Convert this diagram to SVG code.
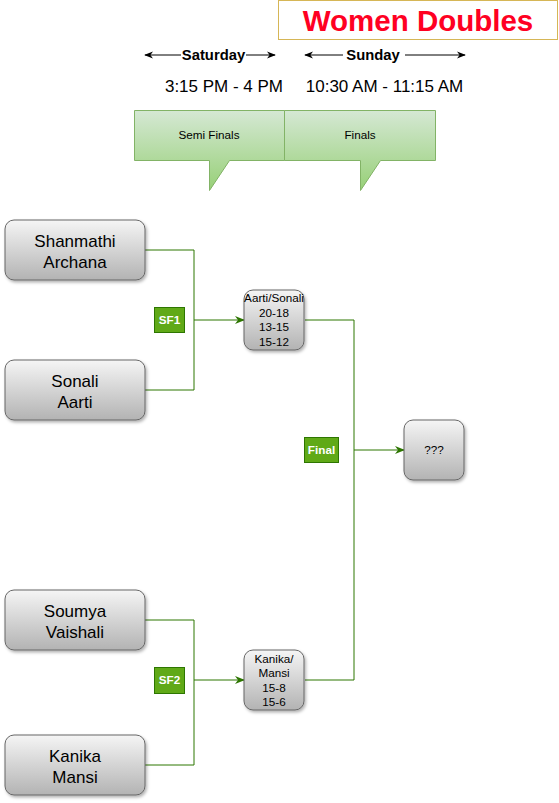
<svg xmlns="http://www.w3.org/2000/svg" width="559" height="803" viewBox="0 0 559 803">
<style>
text{font-family:"Liberation Sans",Arial,sans-serif;text-anchor:middle;}
.big{font-size:17px;fill:#000;}
.sm{font-size:11.7px;fill:#000;}
.node{fill:url(#gray);stroke:#666666;stroke-width:1;filter:url(#sh);}
.lbl{fill:#60a917;stroke:#2d7600;stroke-width:1;}
.lbt{font-size:11.7px;font-weight:bold;fill:#fff;}
.con{fill:none;stroke:#2d7600;stroke-width:1;}
.call{fill:url(#green);stroke:#82b366;stroke-width:1;}
.day{stroke:#000;stroke-width:1;marker-start:url(#ab);marker-end:url(#ab);}
</style>
<defs>
<linearGradient id="gray" x1="0" y1="0" x2="0" y2="1"><stop offset="0" stop-color="#f5f5f5"/><stop offset="1" stop-color="#b3b3b3"/></linearGradient>
<linearGradient id="green" x1="0" y1="0" x2="0" y2="1"><stop offset="0" stop-color="#d5e8d4"/><stop offset="1" stop-color="#97d077"/></linearGradient>
<filter id="sh" x="-20%" y="-20%" width="150%" height="150%"><feDropShadow dx="1.5" dy="2" stdDeviation="1.5" flood-color="#000" flood-opacity="0.3"/></filter>
<marker id="ag" viewBox="0 0 10 10" refX="9" refY="5" markerWidth="10" markerHeight="10" markerUnits="userSpaceOnUse" orient="auto"><path d="M0,1 L10,5 L0,9 L3,5 Z" fill="#2d7600"/></marker>
<marker id="ab" viewBox="0 0 10 10" refX="9" refY="5" markerWidth="9" markerHeight="9" markerUnits="userSpaceOnUse" orient="auto-start-reverse"><path d="M0,1 L10,5 L0,9 L3,5 Z" fill="#000"/></marker>
</defs>

<g id="title">
<rect x="278.5" y="0.5" width="279" height="39" fill="#fff" stroke="#d6b656"/>
<text x="418" y="31" style="font-size:29.5px;font-weight:bold;fill:#ff0022;">Women Doubles</text>
</g>

<g id="saturday">
<line class="day" x1="145" y1="55" x2="275" y2="55"/>
<rect x="181" y="47" width="65" height="16" fill="#fff"/>
<text x="213.5" y="60" style="font-size:14.8px;font-weight:bold;">Saturday</text>
<text x="224" y="92" class="big">3:15 PM - 4 PM</text>
</g>
<g id="sunday">
<line class="day" x1="305" y1="55" x2="465" y2="55"/>
<rect x="343" y="47" width="62" height="16" fill="#fff"/>
<text x="373" y="60" style="font-size:14.8px;font-weight:bold;">Sunday</text>
<text x="384.5" y="92" class="big">10:30 AM - 11:15 AM</text>
</g>

<g id="semi-finals">
<path class="call" d="M134.5,110.5 H284.5 V160.5 H229.5 L209.5,190.5 V160.5 H134.5 Z"/>
<text x="209" y="139" class="sm">Semi Finals</text>
</g>
<g id="finals">
<path class="call" d="M284.5,110.5 H435.5 V160.5 H380.5 L360.5,190.5 V160.5 H284.5 Z"/>
<text x="360" y="139" class="sm">Finals</text>
</g>

<g id="connectors">
<path class="con" d="M145,250 H194 V320 H244" marker-end="url(#ag)"/>
<path class="con" d="M145,390 H194 V320"/>
<path class="con" d="M145,620 H194 V680 H244" marker-end="url(#ag)"/>
<path class="con" d="M145,765 H194 V680"/>
<path class="con" d="M305,320 H354 V450 H404" marker-end="url(#ag)"/>
<path class="con" d="M305,680 H354 V450"/>
</g>

<g id="team1">
<rect class="node" x="5" y="220" width="140" height="60" rx="9"/>
<text x="75" y="247" class="big">Shanmathi</text>
<text x="75" y="268" class="big">Archana</text>
</g>
<g id="team2">
<rect class="node" x="5" y="360" width="140" height="60" rx="9"/>
<text x="75" y="387" class="big">Sonali</text>
<text x="75" y="408" class="big">Aarti</text>
</g>
<g id="team3">
<rect class="node" x="5" y="590" width="140" height="60" rx="9"/>
<text x="75" y="617" class="big">Soumya</text>
<text x="75" y="638" class="big">Vaishali</text>
</g>
<g id="team4">
<rect class="node" x="5" y="735" width="140" height="60" rx="9"/>
<text x="75" y="762" class="big">Kanika</text>
<text x="75" y="783" class="big">Mansi</text>
</g>

<g id="sf1-winner">
<rect class="node" x="244" y="290" width="60" height="60" rx="9"/>
<text x="274" y="302" class="sm">Aarti/Sonali</text>
<text x="274" y="317" class="sm">20-18</text>
<text x="274" y="331" class="sm">13-15</text>
<text x="274" y="346" class="sm">15-12</text>
</g>
<g id="sf2-winner">
<rect class="node" x="244" y="650" width="60" height="60" rx="9"/>
<text x="274" y="663" class="sm">Kanika/</text>
<text x="274" y="677" class="sm">Mansi</text>
<text x="274" y="692" class="sm">15-8</text>
<text x="274" y="706" class="sm">15-6</text>
</g>
<g id="champion">
<rect class="node" x="404" y="420" width="60" height="60" rx="9"/>
<text x="434" y="454" class="sm">???</text>
</g>

<g id="label-sf1">
<rect class="lbl" x="154.5" y="307.5" width="30" height="25"/>
<text x="169.5" y="324" class="lbt">SF1</text>
</g>
<g id="label-sf2">
<rect class="lbl" x="154.5" y="667.5" width="30" height="26"/>
<text x="169.5" y="684" class="lbt">SF2</text>
</g>
<g id="label-final">
<rect class="lbl" x="304.5" y="437.5" width="34" height="25"/>
<text x="321.5" y="454" class="lbt">Final</text>
</g>
</svg>
